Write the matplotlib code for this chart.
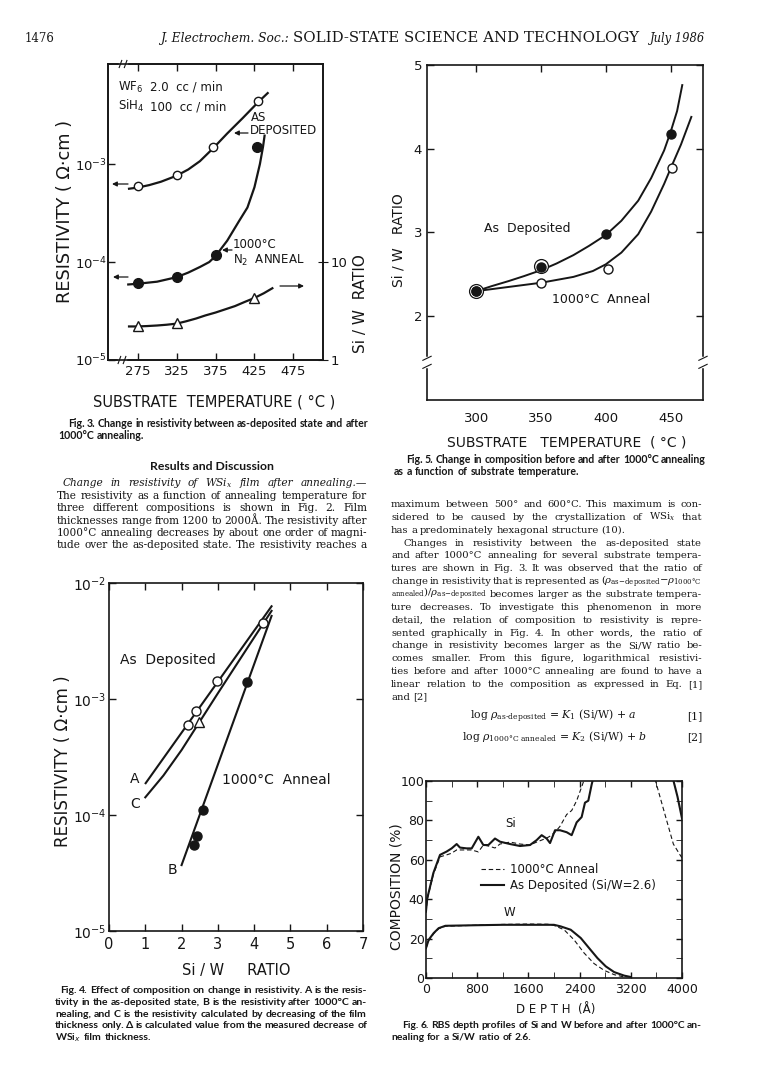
import numpy as np
import matplotlib
matplotlib.use('Agg')
import matplotlib.pyplot as plt

W, H = 768, 1080
INK = '#161616'

# ---- Fig. 3 : resistivity vs substrate temperature ----
t3_dep = [275, 325, 372, 430]
rho3_dep = [6.0e-4, 7.7e-4, 1.49e-3, 4.4e-3]
t3_ann = [275, 325, 375, 428]
rho3_ann = [6.1e-5, 7.0e-5, 1.18e-4, 1.48e-3]
t3_ratio = [275, 325, 425]
ratio3 = [2.22, 2.39, 4.3]
curve3_dep_t = [264, 275, 290, 305, 325, 340, 355, 372, 390, 410, 430, 442]
curve3_dep_rho = [5.6e-4, 5.75e-4, 6.1e-4, 6.6e-4, 7.6e-4, 8.8e-4, 1.07e-3, 1.45e-3, 2.05e-3, 2.95e-3, 4.3e-3, 5.3e-3]
curve3_ann_t = [263, 275, 300, 325, 340, 355, 367, 375, 390, 405, 416, 425, 432, 436, 438]
curve3_ann_rho = [5.9e-5, 6.0e-5, 6.3e-5, 7.0e-5, 7.8e-5, 8.9e-5, 1.0e-4, 1.15e-4, 1.65e-4, 2.6e-4, 3.6e-4,
                  5.8e-4, 1.0e-3, 1.5e-3, 1.95e-3]
curve3_ratio_t = [264, 275, 287, 300, 312, 325, 337, 350, 362, 375, 387, 400, 412, 425, 437, 448]
curve3_ratio = [2.2, 2.2, 2.22, 2.25, 2.29, 2.35, 2.48, 2.65, 2.85, 3.05, 3.28, 3.55, 3.9, 4.3, 4.8, 5.4]

# ---- Fig. 5 : Si/W ratio vs substrate temperature ----
t5_dep = [300, 350, 400, 450]
ratio5_dep = [2.30, 2.59, 2.98, 4.18]
t5_ann = [300, 350, 402, 451]
ratio5_ann = [2.30, 2.40, 2.56, 3.77]
t5_ring = [300, 350]
ratio5_ring = [2.30, 2.60]
curve5_dep_t = [300, 312, 325, 337, 350, 362, 375, 387, 400, 412, 425, 435, 445, 450, 455, 459]
curve5_dep = [2.30, 2.36, 2.42, 2.48, 2.55, 2.63, 2.73, 2.84, 2.97, 3.14, 3.38, 3.65, 3.98, 4.20, 4.45, 4.76]
curve5_ann_t = [300, 325, 350, 375, 390, 400, 412, 425, 435, 445, 451, 458, 466]
curve5_ann = [2.30, 2.35, 2.40, 2.47, 2.54, 2.62, 2.76, 2.98, 3.25, 3.58, 3.80, 4.05, 4.38]

# ---- Fig. 4 : resistivity vs Si/W ratio ----
sw4_dep = [2.18, 2.41, 2.98, 4.24]
rho4_dep = [6.0e-4, 7.9e-4, 1.43e-3, 4.5e-3]
sw4_calc = [2.49]
rho4_calc = [6.35e-4]
sw4_ann = [2.34, 2.43, 2.60, 3.79]
rho4_ann = [5.5e-5, 6.65e-5, 1.1e-4, 1.39e-3]
lineA_sw = [1.01, 4.48]
lineA_rho = [1.88e-4, 6.3e-3]
lineB_sw = [2.0, 4.48]
lineB_rho = [3.7e-5, 5.2e-3]
lineC_sw = [1.0, 1.5, 2.0, 2.5, 3.0, 3.5, 4.0, 4.48]
lineC_rho = [1.42e-4, 2.19e-4, 3.63e-4, 6.38e-4, 1.12e-3, 1.95e-3, 3.39e-3, 5.75e-3]

# ---- Fig. 6 : RBS depth profiles ----
si_dep_d = [0, 20, 115, 219, 323, 401, 479, 531, 635, 714, 818, 896, 974, 1078, 1156, 1313, 1469,
            1625, 1729, 1807, 1885, 1938, 2016, 2094, 2198, 2276, 2354, 2432, 2484, 2536, 2589, 2610]
si_dep = [34, 40.5, 53.3, 62.5, 64.2, 65.8, 68.0, 66.2, 65.8, 65.8, 71.7, 67.5, 67.5, 70.8, 69.2, 68.0,
          67.0, 67.5, 70.0, 72.5, 70.8, 68.5, 75.0, 75.0, 74.0, 72.5, 79.0, 81.7, 89.0, 90.0, 98.3, 101]
si_dep_tail_d = [3860, 3930, 4000]
si_dep_tail = [101, 92, 81]
si_ann_d = [0, 20, 115, 219, 323, 396, 479, 635, 714, 818, 896, 974, 1078, 1156, 1313, 1469, 1625,
            1729, 1807, 1885, 1938, 2016, 2094, 2198, 2276, 2354, 2432, 2475]
si_ann = [33, 40, 52.5, 61.5, 62.5, 63.3, 65.0, 65.0, 65.0, 64.0, 67.5, 67.0, 66.0, 68.0, 69.0, 68.0,
          67.5, 69.0, 70.0, 71.0, 72.0, 74.0, 77.0, 83.0, 85.0, 90.0, 97.0, 101]
si_ann_tail_d = [3578, 3760, 3865, 3969, 4000]
si_ann_tail = [101, 80, 68, 62.5, 61]
w_dep_d = [0, 42, 120, 198, 303, 800, 1200, 1600, 2000, 2104, 2261, 2418, 2548, 2679, 2809, 2940, 3097, 3201]
w_dep = [15.2, 19.4, 22.8, 25.3, 26.5, 26.8, 27.0, 27.0, 27.0, 26.2, 24.5, 20.3, 15.2, 10.1, 5.9, 3.0, 1.2, 0.5]
w_ann_d = [0, 42, 120, 198, 303, 800, 1200, 1600, 1900, 2000, 2157, 2313, 2470, 2627, 2783, 2940, 3097]
w_ann = [15.0, 19.0, 22.5, 25.0, 26.3, 26.8, 27.2, 27.4, 27.3, 26.7, 24.5, 19.4, 12.7, 7.3, 3.9, 1.7, 0.5]

# ---- page text ----
fig3_cap = ['Fig. 3. Change in resistivity between as-deposited state and after',
            '1000°C annealing.']
fig5_cap = ['Fig. 5. Change in composition before and after 1000°C annealing',
            'as a function of substrate temperature.']
fig4_cap = ['Fig. 4. Effect of composition on change in resistivity. A is the resis-',
            'tivity in the as-deposited state, B is the resistivity after 1000°C an-',
            'nealing, and C is the resistivity calculated by decreasing of the film',
            'thickness only. Δ is calculated value from the measured decrease of',
            r'WSi$_x$ film thickness.']
fig6_cap = ['Fig. 6. RBS depth profiles of Si and W before and after 1000°C an-',
            'nealing for a Si/W ratio of 2.6.']
left_lines = [r'Change in resistivity of WSi$_x$ film after annealing.—',
              'The resistivity as a function of annealing temperature for',
              'three different compositions is shown in Fig. 2. Film',
              'thicknesses range from 1200 to 2000Å. The resistivity after',
              '1000°C annealing decreases by about one order of magni-',
              'tude over the as-deposited state. The resistivity reaches a']
right_lines = ['maximum between 500° and 600°C. This maximum is con-',
               r'sidered to be caused by the crystallization of WSi$_x$ that',
               'has a predominately hexagonal structure (10).',
               'Changes in resistivity between the as-deposited state',
               'and after 1000°C annealing for several substrate tempera-',
               'tures are shown in Fig. 3. It was observed that the ratio of',
               r'change in resistivity that is represented as $(\rho_{\mathrm{as{-}deposited}}{-}\rho_{\mathrm{1000°C}}$',
               r'$_{\mathrm{annealed}})/\rho_{\mathrm{as{-}deposited}}$ becomes larger as the substrate tempera-',
               'ture decreases. To investigate this phenomenon in more',
               'detail, the relation of composition to resistivity is repre-',
               'sented graphically in Fig. 4. In other words, the ratio of',
               'change in resistivity becomes larger as the Si/W ratio be-',
               'comes smaller. From this figure, logarithmical resistivi-',
               'ties before and after 1000°C annealing are found to have a',
               'linear relation to the composition as expressed in Eq. [1]',
               'and [2]']

plt.rcParams['font.family'] = 'DejaVu Sans'
plt.rcParams['mathtext.fontset'] = 'dejavusans'
fig = plt.figure(figsize=(W / 100, H / 100), dpi=100)
fig.patch.set_facecolor('white')
rend = fig.canvas.get_renderer()


def fx(x):
    return x / W


def fy(y):
    return 1 - y / H


def add_ax(l, t, r, b):
    ax = fig.add_axes([l / W, 1 - b / H, (r - l) / W, (b - t) / H])
    for s in ax.spines.values():
        s.set_color(INK)
        s.set_linewidth(1.2)
    ax.tick_params(direction='in', colors=INK, length=5, width=1.0)
    return ax


def put(x, y, s, **kw):
    kw.setdefault('color', INK)
    return fig.text(fx(x), fy(y), s, **kw)


def fit(x0, x1, y, s, size, **kw):
    # one text sized so that it spans x0..x1
    t = put(x0, y, s, size=size, va='baseline', **kw)
    w = t.get_window_extent(rend).width
    t.set_fontsize(size * (x1 - x0) / w)
    return t


def block(lines, x0s, x1, y0, dy, size, lasts=(), styles=None, floor=0.93, **kw):
    # justified paragraph: mostly one font size, words spread to fill each line
    rows, needs = [], []
    for i, ln in enumerate(lines):
        st = styles[i] if styles else 'normal'
        words = ln.split(' ')
        texts = [put(0, y0 + dy * i, w, size=size, va='baseline', style=st, **kw) for w in words]
        widths = [t.get_window_extent(rend).width for t in texts]
        minsp = 0.22 * size * 1.389
        need = 1.0
        if i not in lasts and len(words) > 1:
            need = min(1.0, (x1 - x0s[i] - (len(words) - 1) * minsp) / sum(widths))
        needs.append(need)
        rows.append(texts)
    common = max(min(needs), floor)
    for i, texts in enumerate(rows):
        sc = min(common, needs[i])
        for t in texts:
            t.set_fontsize(size * sc)
        widths = [t.get_window_extent(rend).width for t in texts]
        if i in lasts or len(texts) == 1:
            gap = 0.28 * size * sc * 1.389
        else:
            gap = (x1 - x0s[i] - sum(widths)) / (len(texts) - 1)
        x = x0s[i]
        for t, w in zip(texts, widths):
            t.set_x(fx(x))
            x += w + gap


def arrow(x0, y0, x1, y1):
    fig.add_artist(plt.Annotation('', xy=(x1, H - y1), xytext=(x0, H - y0),
                                  xycoords='figure pixels', textcoords='figure pixels',
                                  arrowprops=dict(arrowstyle='-|>', color=INK, lw=0.9,
                                                  mutation_scale=7, shrinkA=0, shrinkB=0)))


def brk(ax, xa, ya, horiz=True):
    d = 0.012
    if horiz:
        ax.plot([xa - d, xa + d], [ya, ya], transform=ax.transAxes, color='white', lw=2.5, clip_on=False, zorder=5)
        for o in (-d, d):
            ax.plot([xa + o - 0.006, xa + o + 0.006], [ya - 0.012, ya + 0.012], transform=ax.transAxes,
                    color=INK, lw=0.8, clip_on=False, zorder=6)
    else:
        ax.plot([xa, xa], [ya - d, ya + d], transform=ax.transAxes, color='white', lw=2.5, clip_on=False, zorder=5)
        for o in (-d, d):
            ax.plot([xa - 0.015, xa + 0.015], [ya + o - 0.006, ya + o + 0.006], transform=ax.transAxes,
                    color=INK, lw=0.8, clip_on=False, zorder=6)


serif = 'DejaVu Serif'
lab = dict(color=INK, size=9.5)
cap = dict(family=['Liberation Sans Narrow', 'Lato'], weight='bold')
CAP = 7.6
body = dict(family=serif, math_fontfamily='dejavuserif')
BODY = 7.6

# ---------- header ----------
put(25, 42, '1476', family=serif, size=8.5, va='baseline')
t = put(160, 42, 'J. Electrochem. Soc.:', family=serif, size=8.8, style='italic', va='baseline')
w0 = t.get_window_extent(rend).width
fit(160 + w0 + 4, 637, 42, 'SOLID-STATE SCIENCE AND TECHNOLOGY', 8.8, family=serif)
put(705, 42, 'July 1986', family=serif, size=8.3, style='italic', va='baseline', ha='right')

# ---------- Fig. 3 ----------
ax3 = add_ax(108, 64, 323, 360)
ax3.set_yscale('log')
ax3.plot(curve3_dep_t, curve3_dep_rho, color=INK, lw=1.6)
ax3.plot(curve3_ann_t, curve3_ann_rho, color=INK, lw=1.6)
ax3.plot(t3_dep, rho3_dep, 'o', ms=6, mfc='white', mec=INK, mew=1.0)
ax3.plot(t3_ann, rho3_ann, 'o', ms=7, color=INK)
ax3.set_xlim(237, 513)
ax3.set_ylim(1e-5, 1.05e-2)
ax3.set_xticks([275, 325, 375, 425, 475])
ax3.set_xticklabels(['275', '325', '375', '425', '475'], **lab)
ax3.set_yticks([1e-5, 1e-4, 1e-3])
ax3.set_yticklabels([r'$10^{-5}$', r'$10^{-4}$', r'$10^{-3}$'], **lab)
ax3.yaxis.set_minor_locator(matplotlib.ticker.NullLocator())
ax3.tick_params(axis='y', pad=1)
ax3.tick_params(top=True, right=False)
ax3r = ax3.twinx()
ax3r.set_yscale('log')
ax3r.set_ylim(1, 1050)
ax3r.plot(curve3_ratio_t, curve3_ratio, color=INK, lw=1.6)
ax3r.plot(t3_ratio, ratio3, '^', ms=6.5, mfc='white', mec=INK, mew=1.0)
ax3r.set_yticks([1, 10])
ax3r.set_yticklabels(['1', '10'], **lab)
ax3r.yaxis.set_minor_locator(matplotlib.ticker.NullLocator())
ax3r.tick_params(direction='inout', colors=INK, length=7, pad=2)
for s in ax3r.spines.values():
    s.set_linewidth(1.2)
    s.set_color(INK)
brk(ax3, 0.07, 1.0)
brk(ax3, 0.065, 0.0)
put(118, 91, r'WF$_6$', size=8.5)
put(150, 91, '2.0  cc / min', size=8.5)
put(118, 110, r'SiH$_4$', size=8.5)
put(150, 110, '100  cc / min', size=8.5)
put(251, 121, 'AS', size=8.5)
put(250, 134, 'DEPOSITED', size=8.5)
arrow(248, 133, 234, 133)
put(233, 248, '1000°C', size=8.5)
put(233, 264, r'N$_2$  ANNEAL', size=8.5)
arrow(232, 250, 222, 250)
arrow(128, 184, 112, 184)
arrow(128, 277, 113, 277)
arrow(280, 286, 304, 286)
put(65, 211, 'RESISTIVITY ( Ω·cm )', size=12.8, rotation=90, ha='center', va='center')
put(360, 304, 'Si / W  RATIO', size=11, rotation=90, ha='center', va='center')
put(214, 402, 'SUBSTRATE  TEMPERATURE ( °C )', size=10.5, ha='center', va='center')
block(fig3_cap, [68, 58], 368, 427, 12, CAP, lasts=(1,), **cap)

# ---------- Fig. 5 ----------
ax5 = add_ax(427, 65, 703, 400)
ax5.plot(curve5_dep_t, curve5_dep, color=INK, lw=1.4)
ax5.plot(curve5_ann_t, curve5_ann, color=INK, lw=1.4)
ax5.plot(t5_ring, ratio5_ring, 'o', ms=10, mfc='white', mec=INK, mew=0.9)
ax5.plot(t5_ann, ratio5_ann, 'o', ms=6.5, mfc='white', mec=INK, mew=1.0)
ax5.plot(t5_dep, ratio5_dep, 'o', ms=6.5, color=INK)
ax5.set_xlim(262, 475)
ax5.set_ylim(1, 5)
ax5.set_xticks([300, 350, 400, 450])
ax5.set_xticklabels(['300', '350', '400', '450'], **lab)
ax5.set_yticks([2, 3, 4, 5])
ax5.set_yticklabels(['2', '3', '4', '5'], **lab)
ax5.tick_params(top=True, right=True, bottom=False)
ax5.tick_params(axis='x', pad=9)
brk(ax5, 0.0, 0.1125, horiz=False)
brk(ax5, 1.0, 0.1125, horiz=False)
put(484, 232, 'As  Deposited', size=9)
put(552, 303, '1000°C  Anneal', size=9)
put(399, 240, 'Si / W   RATIO', size=10, rotation=90, ha='center', va='center')
put(567, 442, 'SUBSTRATE   TEMPERATURE  ( °C )', size=10, ha='center', va='center')
block(fig5_cap, [406, 394], 706, 463, 12, CAP, lasts=(1,), **cap)

# ---------- body text ----------
put(212, 470, 'Results and Discussion', size=8.8, family=['Liberation Sans Narrow', 'Lato'], weight='bold',
    ha='center', va='baseline')
block(left_lines, [63, 57, 57, 57, 57, 57], 367, 486, 12.5, BODY,
      styles=['italic'] + ['normal'] * 5, **body)
block(right_lines, [403 if i == 3 else 391 for i in range(len(right_lines))], 702, 507, 12.85, BODY,
      lasts=(2, 15), **body)
put(470, 719, r'log $\rho_{\rm as\text{-}deposited}$ = $K_1$ (Si/W) + $a$', size=7.8, va='baseline', **body)
put(462, 740, r'log $\rho_{\rm 1000°C\ annealed}$ = $K_2$ (Si/W) + $b$', size=7.8, va='baseline', **body)
put(702, 719, '[1]', size=7.8, ha='right', va='baseline', **body)
put(702, 740, '[2]', size=7.8, ha='right', va='baseline', **body)

# ---------- Fig. 4 ----------
ax4 = add_ax(109, 583, 363, 931)
ax4.set_yscale('log')
ax4.plot(lineA_sw, lineA_rho, color=INK, lw=1.5)
ax4.plot(lineB_sw, lineB_rho, color=INK, lw=1.5)
ax4.plot(lineC_sw, lineC_rho, color=INK, lw=1.5)
ax4.plot(sw4_dep, rho4_dep, 'o', ms=6.5, mfc='white', mec=INK, mew=1.0)
ax4.plot(sw4_calc, rho4_calc, '^', ms=6.5, mfc='white', mec=INK, mew=1.0)
ax4.plot(sw4_ann, rho4_ann, 'o', ms=6.5, color=INK)
ax4.set_xlim(0, 7)
ax4.set_ylim(1e-5, 1e-2)
ax4.set_xticks(range(8))
ax4.set_xticklabels([str(i) for i in range(8)], size=10.5, color=INK)
ax4.set_yticks([1e-5, 1e-4, 1e-3, 1e-2])
ax4.set_yticklabels([r'$10^{-5}$', r'$10^{-4}$', r'$10^{-3}$', r'$10^{-2}$'], size=10, color=INK)
ax4.yaxis.set_minor_locator(matplotlib.ticker.NullLocator())
ax4.tick_params(top=True, right=True, pad=2)
ax4.tick_params(axis='x', pad=4)
put(120, 664, 'As  Deposited', size=10)
put(130, 783, 'A', size=10)
put(130, 808, 'C', size=10)
put(168, 874, 'B', size=10)
put(222, 784, '1000°C  Anneal', size=10)
put(63, 761, 'RESISTIVITY ( Ω·cm )', size=12, rotation=90, ha='center', va='center')
put(236, 971, 'Si / W     RATIO', size=10.5, ha='center', va='center')
block(fig4_cap, [60, 55, 55, 55, 55], 367, 993, 11.8, CAP, lasts=(4,), **cap)

# ---------- Fig. 6 ----------
ax6 = add_ax(426, 781, 682, 978)
ax6.plot(si_dep_d, si_dep, color=INK, lw=1.5, label='As Deposited (Si/W=2.6)')
ax6.plot(si_dep_tail_d, si_dep_tail, color=INK, lw=1.5)
ax6.plot(w_dep_d, w_dep, color=INK, lw=1.5)
ax6.plot(si_ann_d, si_ann, color=INK, lw=0.8, ls=(0, (4, 2.5)), label='1000°C Anneal')
ax6.plot(si_ann_tail_d, si_ann_tail, color=INK, lw=0.8, ls=(0, (4, 2.5)))
ax6.plot(w_ann_d, w_ann, color=INK, lw=0.8, ls=(0, (4, 2.5)))
ax6.set_xlim(0, 4000)
ax6.set_ylim(0, 100)
ax6.set_xticks(range(0, 4001, 800))
ax6.set_xticklabels([str(v) for v in range(0, 4001, 800)], size=9, color=INK)
ax6.set_xticks(range(0, 4001, 400), minor=True)
ax6.set_yticks(range(0, 101, 20))
ax6.set_yticklabels([str(v) for v in range(0, 101, 20)], size=9, color=INK)
ax6.set_yticks(range(0, 101, 10), minor=True)
ax6.tick_params(which='both', direction='in', top=True, right=True, length=4, colors=INK)
ax6.tick_params(axis='y', pad=1)
h, l = ax6.get_legend_handles_labels()
leg = ax6.legend(h[::-1], l[::-1], loc='upper left', bbox_to_anchor=(0.19, 0.615), frameon=False,
                 fontsize=8.5, handlelength=2.0, handletextpad=0.5, labelspacing=0.3, borderpad=0)
for tx in leg.get_texts():
    tx.set_color(INK)
ax6.text(1330, 75, 'Si', size=8.5, color=INK, ha='center', va='bottom')
ax6.text(1310, 30, 'W', size=8.5, color=INK, ha='center', va='bottom')
put(396, 887, 'COMPOSITION (%)', size=10, rotation=90, ha='center', va='center')
put(556, 1009, 'D E P T H  (Å)', size=8.5, ha='center', va='center')
block(fig6_cap, [402, 391], 702, 1028, 12, CAP, lasts=(1,), **cap)

fig.savefig('out.png', dpi=100, facecolor='white')
